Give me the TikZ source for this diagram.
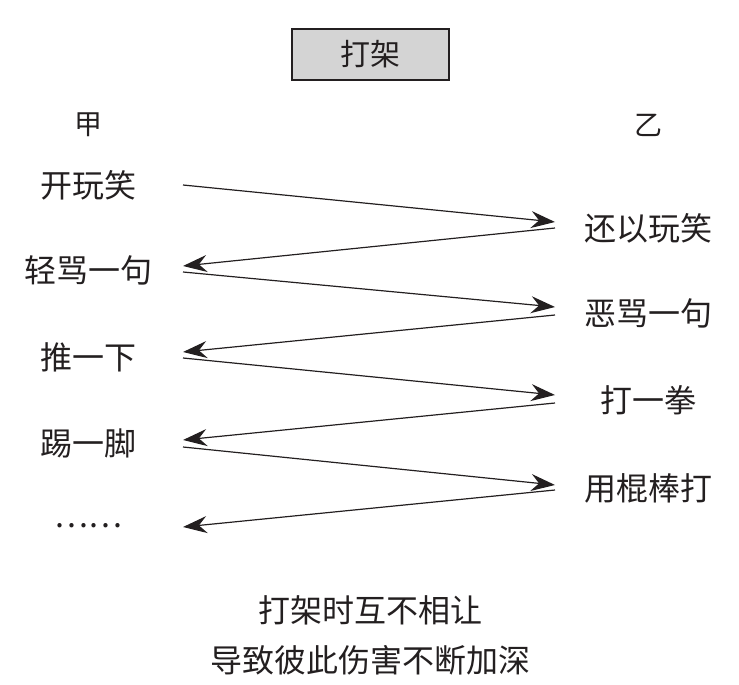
\documentclass[tikz,border=0pt]{standalone}
\usepackage{fontspec}
\setmainfont{Noto Sans CJK SC}
\usetikzlibrary{arrows.meta}
\definecolor{inkblack}{HTML}{231F20}
\definecolor{titlegrey}{HTML}{D4D4D4}

\begin{document}
\begin{tikzpicture}[x=1pt, y=-1pt,
    every node/.style={inner sep=0pt, text=inkblack, font=\fontsize{32}{38}\selectfont},
    titlebox/.style={draw=inkblack, fill=titlegrey, line width=1.2pt,
      minimum width=157pt, minimum height=51pt, font=\fontsize{30}{34}\selectfont},
    side/.style={font=\fontsize{28}{32}\selectfont},
    hit/.style={-{Stealth[length=24pt, width=17pt, inset=8pt]}, draw=inkblack, line width=1.2pt}
  ]
  \useasboundingbox (0,0) rectangle (739,685);

  % --- titre et parties --------------------------------------------------
  \node[titlebox] (title) at (370.5,54.5) {打架};
  \node[side] (jia) at (88,125) {甲};
  \node[side] (yi)  at (648,125) {乙};

  % --- actions de chaque cote --------------------------------------------
  \node (j1) at (88,185) {开玩笑};
  \node (j2) at (88,270) {轻骂一句};
  \node (j3) at (88,357) {推一下};
  \node (j4) at (88,443) {踢一脚};
  \node (j5) at (88,526) {……};

  \node (y1) at (648,228) {还以玩笑};
  \node (y2) at (648,313) {恶骂一句};
  \node (y3) at (648,400) {打一拳};
  \node (y4) at (648,488) {用棍棒打};

  % --- echanges en zigzag ------------------------------------------------
  \foreach \i/\ya/\yb/\yc/\yd in {1/185/222/228/266, 2/272/307/315/352,
                                 3/358/395/403/440, 4/447/485/490/527}
    {
      \coordinate (jout\i) at (183,\ya);
      \coordinate (yin\i)  at (555,\yb);
      \coordinate (yout\i) at (555,\yc);
      \coordinate (jin\i)  at (183,\yd);
      \draw[hit] (jout\i) -- (yin\i);
      \draw[hit] (yout\i) -- (jin\i);
    }

  % --- conclusion --------------------------------------------------------
  \node (concl1) at (370,610) {打架时互不相让};
  \node (concl2) at (370,660) {导致彼此伤害不断加深};
\end{tikzpicture}
\end{document}
